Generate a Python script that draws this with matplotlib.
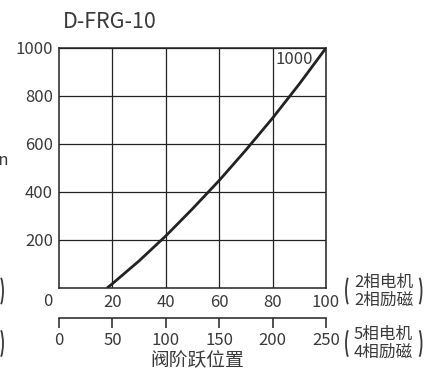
import matplotlib
matplotlib.use("Agg")
import matplotlib.pyplot as plt
from matplotlib.patches import Arc

plt.rcParams['font.family'] = ['Noto Sans CJK SC', 'DejaVu Sans']

# Valve step position vs. flow, D-FRG-10
title = "D-FRG-10"
step_pct = [18, 20, 30, 40, 50, 60, 70, 80, 90, 100]
flow = [0, 18, 113, 217, 330, 448, 575, 708, 850, 1000]
max_label = "1000"

x_ticks = [20, 40, 60, 80, 100]
y_ticks = [200, 400, 600, 800, 1000]
step_ticks = [0, 50, 100, 150, 200, 250]
steps_per_pct = 2.5

x_label = "阀阶跃位置"
motor_2ph = ["2相电机", "2相励磁"]
motor_5ph = ["5相电机", "4相励磁"]

W, H = 440, 376
ink = "#222222"
txt = "#3a3a3a"

fig = plt.figure(figsize=(W / 100, H / 100), dpi=100)
ax = fig.add_axes([59 / W, 1 - 288 / H, 267 / W, 240 / H])

ax.plot(step_pct, flow, color=ink, lw=2.0, solid_capstyle='butt', zorder=3)

ax.set_xlim(0, 100)
ax.set_ylim(0, 1000)
ax.set_xticks(x_ticks)
ax.set_yticks(y_ticks)
ax.grid(True, color=ink, lw=0.9)
ax.tick_params(length=0, labelsize=12, labelcolor=txt, pad=4.3)
for s in ax.spines.values():
    s.set_color(ink)
    s.set_linewidth(1.1)

# the shared corner "0" sits a bit left of the axis origin
ax.text(-4.1, -58, "0", ha='center', va='center', fontsize=12, color=txt)
ax.text(95.2, 950, max_label, ha='right', va='center', fontsize=12, color=txt)

# step count scale underneath
sec = ax.secondary_xaxis(-30 / 240, functions=(lambda p: p * steps_per_pct,
                                               lambda s: s / steps_per_pct))
sec.set_xticks(step_ticks)
sec.tick_params(direction='out', length=7, width=1.1, color=ink,
                labelsize=12, labelcolor=txt, pad=3.0)
sec.spines['bottom'].set_color(ink)
sec.spines['bottom'].set_linewidth(1.1)

fig.text(63 / W, 1 - 22 / H, title, ha='left', va='center', fontsize=15.5, color=txt)
fig.text(197 / W, 1 - 361 / H, x_label, ha='center', va='center', fontsize=13.5, color=txt)
fig.text(9 / W, 1 - 160 / H, "L/min", ha='right', va='center', fontsize=12, color=txt)


def bracket(cx, cy, left=True):
    # tall thin arc used as a parenthesis, coordinates in pixels
    t1, t2 = (110, 250) if left else (-70, 70)
    arc = Arc((cx / W, 1 - cy / H), 15 / W, 40 / H, theta1=t1, theta2=t2,
              transform=fig.transFigure, color=txt, lw=1.3)
    fig.add_artist(arc)


for lines, cy in [(motor_2ph, 291), (motor_5ph, 343.5)]:
    bracket(353.5, cy, left=True)
    bracket(414, cy, left=False)
    bracket(-4.5, cy, left=False)
    fig.text(354 / W, 1 - (cy - 9) / H, lines[0], ha='left', va='center', fontsize=12, color=txt)
    fig.text(354 / W, 1 - (cy + 9) / H, lines[1], ha='left', va='center', fontsize=12, color=txt)

fig.savefig("out.png", dpi=100)
